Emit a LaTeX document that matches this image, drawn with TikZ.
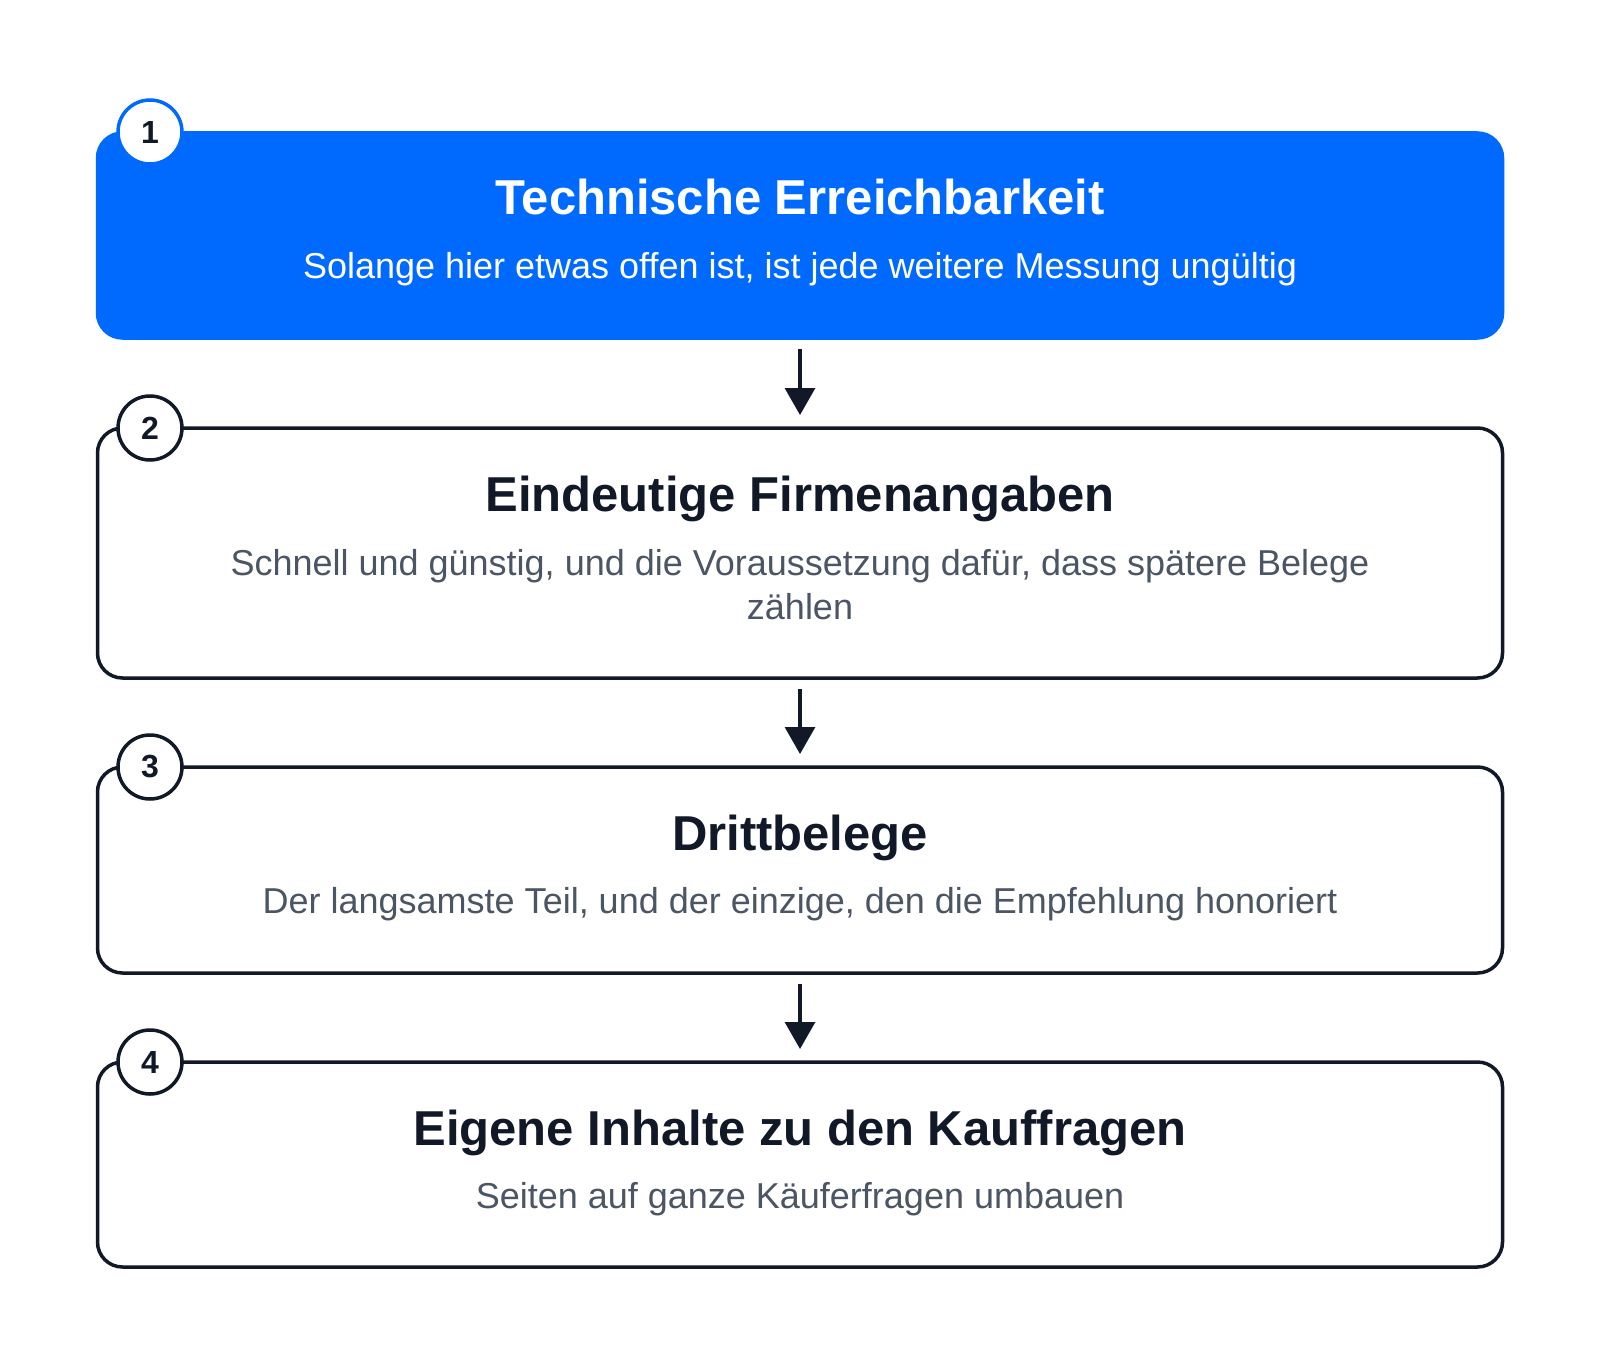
\documentclass[tikz,border=0pt]{standalone}
\usepackage{fontspec}
\setmainfont{Liberation Sans}
\usetikzlibrary{arrows.meta}
\definecolor{brandblue}{RGB}{0,106,255}
\definecolor{ink}{HTML}{111827}
\definecolor{subgray}{HTML}{4B5563}
\tikzset{
  x=1pt, y=-1pt,
  box/.style={rectangle, rounded corners=25pt, minimum width=1405pt, inner sep=0pt, outer sep=0pt, line width=3.5pt, draw=ink, fill=white},
  bluebox/.style={box, draw=brandblue, fill=brandblue},
  badge/.style={circle, minimum size=64pt, inner sep=0pt, line width=3.5pt, draw=ink, fill=white, text=ink, font=\fontsize{32}{38}\selectfont\bfseries},
  ttl/.style={anchor=base, text=ink, font=\fontsize{49}{57}\selectfont\bfseries, inner sep=0pt},
  sub/.style={anchor=base, text=subgray, font=\fontsize{36}{44}\selectfont, inner sep=0pt, align=center},
  arr/.style={line width=3.3pt, draw=ink, -{Triangle[length=27pt,width=30pt]}, shorten <=11pt, shorten >=13pt}
}
\begin{document}
\begin{tikzpicture}
\useasboundingbox (0,0) rectangle (1600,1364);
% boxes
\node[bluebox, minimum height=205pt] (b1) at (800,235.5) {};
\node[box, minimum height=250pt] (b2) at (800,553) {};
\node[box, minimum height=206pt] (b3) at (800,870) {};
\node[box, minimum height=205pt] (b4) at (800,1164.5) {};
% texts
\node[ttl, text=white] (t1) at (800,215) {Technische Erreichbarkeit};
\node[sub, text=white] (s1) at (800,279) {Solange hier etwas offen ist, ist jede weitere Messung ungültig};
\node[ttl] (t2) at (800,511) {Eindeutige Firmenangaben};
\node[sub] (s2a) at (800,575) {Schnell und günstig, und die Voraussetzung dafür, dass spätere Belege};
\node[sub] (s2b) at (800,619) {zählen};
\node[ttl] (t3) at (800,850) {Drittbelege};
\node[sub] (s3) at (800,913) {Der langsamste Teil, und der einzige, den die Empfehlung honoriert};
\node[ttl] (t4) at (800,1145) {Eigene Inhalte zu den Kauffragen};
\node[sub] (s4) at (800,1208) {Seiten auf ganze Käuferfragen umbauen};
% badges
\node[badge, draw=brandblue] (n1) at (150,132) {1};
\node[badge] (n2) at (150,428) {2};
\node[badge] (n3) at (150,767) {3};
\node[badge] (n4) at (150,1062) {4};
% arrows
\draw[arr] (b1.south) -- (b2.north);
\draw[arr] (b2.south) -- (b3.north);
\draw[arr] (b3.south) -- (b4.north);
\end{tikzpicture}
\end{document}
